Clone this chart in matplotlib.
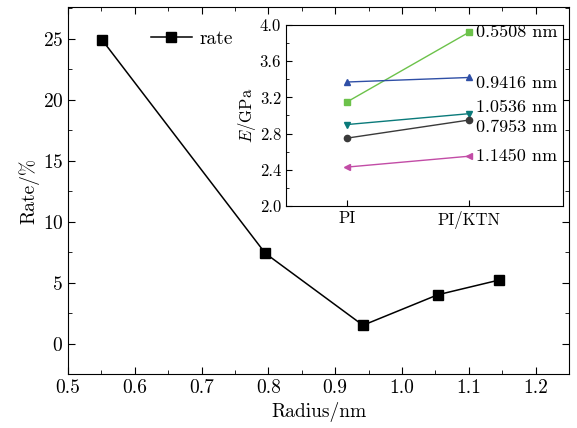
"""Rate vs. radius with inset of modulus for PI and PI/KTN."""

import matplotlib

matplotlib.use("Agg")
import matplotlib.pyplot as plt
from matplotlib.ticker import MultipleLocator

# main panel data
radius = [0.5508, 0.7953, 0.9416, 1.0536, 1.1450]
rate = [24.9, 7.4, 1.5, 4.0, 5.2]

# inset data
inset_cats = ["PI", "PI/KTN"]
inset_labels = ["0.5508 nm", "0.9416 nm", "1.0536 nm", "0.7953 nm", "1.1450 nm"]
inset_values = [
    [3.15, 3.92],
    [3.37, 3.42],
    [2.90, 3.02],
    [2.75, 2.95],
    [2.43, 2.55],
]

STYLE = {
    "0.5508 nm": ("#6cc24a", "s", 0),
    "0.9416 nm": ("#2f4fa6", "^", -4),
    "1.0536 nm": ("#0a7a7a", "v", 4.5),
    "0.7953 nm": ("#3a3a3a", "o", -5),
    "1.1450 nm": ("#c24ca6", "<", 0),
}

plt.rcParams["font.family"] = "serif"
plt.rcParams["font.serif"] = ["cmr10"]
plt.rcParams["mathtext.fontset"] = "cm"
plt.rcParams["axes.formatter.use_mathtext"] = True
plt.rcParams["axes.unicode_minus"] = False
plt.rcParams["font.size"] = 14

fig = plt.figure(figsize=(5.77, 4.28), dpi=100)
ax = fig.add_axes([0.118, 0.126, 0.868, 0.858])

ax.plot(radius, rate, color="black", linewidth=1.1, marker="s",
        markersize=6.5, markerfacecolor="black", label="rate")
ax.set_xlim(0.5, 1.25)
ax.set_ylim(-2.5, 27.6)
ax.xaxis.set_major_locator(MultipleLocator(0.1))
ax.xaxis.set_minor_locator(MultipleLocator(0.05))
ax.yaxis.set_major_locator(MultipleLocator(5))
ax.yaxis.set_minor_locator(MultipleLocator(2.5))
ax.set_xticklabels([f"{v:.1f}" for v in ax.get_xticks()])
ax.tick_params(which="both", direction="in", top=True, right=True, labelsize=14)
ax.tick_params(which="major", length=5)
ax.tick_params(which="minor", length=3)
ax.set_xlabel("Radius/nm", fontsize=14)
ax.set_ylabel("Rate/%", fontsize=14, labelpad=2)
ax.legend(loc="upper left", bbox_to_anchor=(0.13, 0.985), frameon=False,
          fontsize=14, handlelength=2.1, handletextpad=0.4)

ins = fig.add_axes([0.4957, 0.5187, 0.48, 0.4229])
x = list(range(len(inset_cats)))
for lab, vals in zip(inset_labels, inset_values):
    color, marker, dy = STYLE[lab]
    ins.plot(x, vals, color=color, linewidth=1.0, marker=marker, markersize=4.5)
    ins.annotate(lab, xy=(x[-1], vals[-1]), xytext=(5, dy), textcoords="offset points",
                 ha="left", va="center", fontsize=13)
ins.set_xlim(-0.5, 1.77)
ins.set_ylim(2.0, 4.0)
ins.set_xticks(x)
ins.set_xticklabels(inset_cats)
ins.yaxis.set_major_locator(MultipleLocator(0.4))
ins.yaxis.set_minor_locator(MultipleLocator(0.2))
ins.set_yticklabels([f"{v:.1f}" for v in ins.get_yticks()])
ins.tick_params(which="both", direction="in", labelsize=12)
ins.tick_params(which="major", length=4)
ins.tick_params(which="minor", length=2.5)
ins.set_ylabel("$E$/GPa", fontsize=12, labelpad=1)

fig.savefig("out.png", dpi=100)
